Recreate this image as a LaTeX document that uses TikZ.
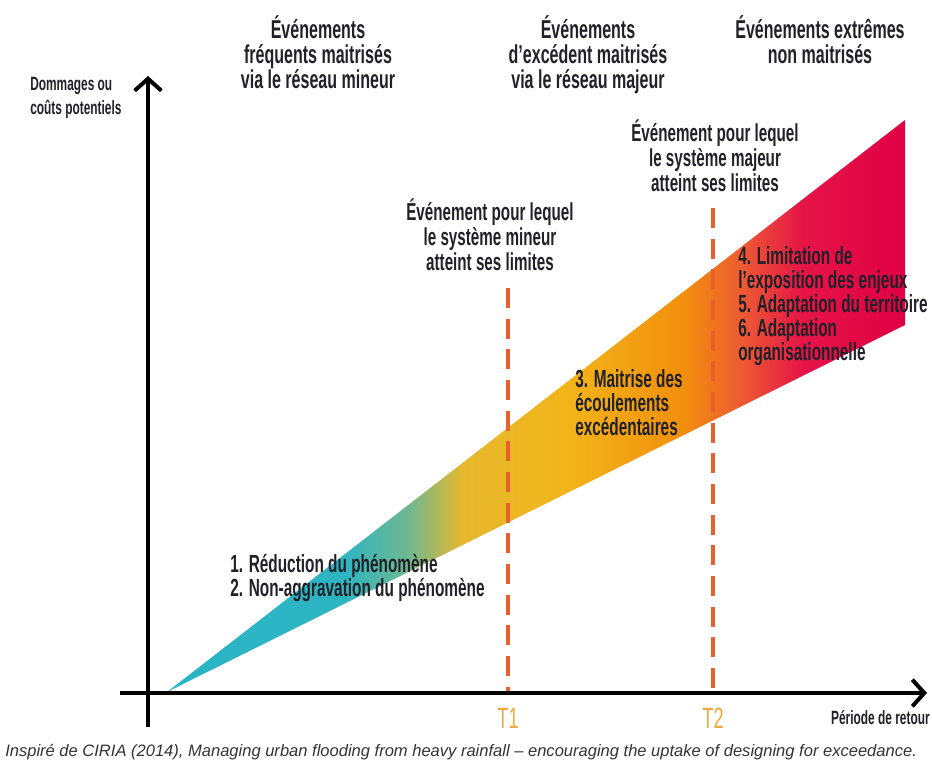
\documentclass[tikz,border=0pt]{standalone}
\usepackage{fontspec}
\setmainfont{Liberation Sans}
\newfontfamily\cond[FakeStretch=0.62]{Liberation Sans}
\usetikzlibrary{arrows.meta}
\definecolor{txt}{HTML}{222128}
\definecolor{dashc}{HTML}{E8602C}
\definecolor{tcol}{HTML}{F2AA3E}
\definecolor{capc}{HTML}{333333}
\pgfdeclarehorizontalshading{wedgeshade}{100bp}{
rgb(0bp)=(0.16,0.71,0.78);
rgb(25bp)=(0.16,0.71,0.78);
rgb(37bp)=(0.18,0.71,0.76);
rgb(41.5bp)=(0.45,0.72,0.55);
rgb(45bp)=(0.90,0.72,0.18);
rgb(52bp)=(0.95,0.71,0.10);
rgb(60bp)=(0.95,0.56,0.05);
rgb(64bp)=(0.93,0.35,0.20);
rgb(68bp)=(0.90,0.08,0.28);
rgb(75bp)=(0.88,0.00,0.27);
rgb(100bp)=(0.88,0.00,0.27)}
\tikzset{
  axisline/.style={line width=3.6pt,-{Straight Barb[length=9pt,width=20pt,line width=3pt]}},
  limline/.style={line width=3pt,dashc,dash pattern=on 15pt off 8pt},
  header/.style={inner sep=0pt,align=center,text=txt,font=\cond\bfseries\fontsize{19.4}{19}\selectfont},
  midtxt/.style={inner sep=0pt,align=center,text=txt,font=\cond\bfseries\fontsize{18.4}{19}\selectfont},
  itemtxt/.style={inner sep=0pt,align=left,text=txt,font=\cond\bfseries\fontsize{18.6}{18}\selectfont},
  smalltxt/.style={inner sep=0pt,align=left,text=txt,font=\cond\bfseries\fontsize{14.4}{18}\selectfont},
  tlabel/.style={inner sep=0pt,text=tcol,font=\cond\fontsize{22}{22}\selectfont},
}
\begin{document}
\begin{tikzpicture}[x=0.75pt,y=-0.75pt]
\useasboundingbox (0,0) rectangle (932,767);
% wedge
\coordinate (apex) at (167,692);
\coordinate (wtop) at (905,120);
\coordinate (wbot) at (905,325);
\shade[shading=wedgeshade] (apex) -- (wtop) -- (wbot) -- cycle;
% dashed limits
\coordinate (t1top) at (508,288);
\coordinate (t1bot) at (508,693);
\coordinate (t2top) at (713,208);
\coordinate (t2bot) at (713,693);
\draw[limline] (t1top) -- (t1bot);
\draw[limline] (t2top) -- (t2bot);
% axes
\coordinate (ybot) at (148,727);
\coordinate (ytop) at (148,76);
\coordinate (xleft) at (120,693);
\coordinate (xright) at (927,693);
\draw[axisline] (ybot) -- (ytop);
\draw[axisline] (xleft) -- (xright);
% axis labels
\node[smalltxt,anchor=north west] (ylab) at (30,77) {Dommages ou\\coûts potentiels};
\node[smalltxt,anchor=east] (xlab) at (930,718) {Période de retour};
\node[tlabel] (T1) at (508,718) {T1};
\node[tlabel] (T2) at (713,718) {T2};
% headers
\node[header,anchor=north] (h1) at (318,15) {Événements\\fréquents maitrisés\\via le réseau mineur};
\node[header,anchor=north] (h2) at (588,15) {Événements\\d’excédent maitrisés\\via le réseau majeur};
\node[header,anchor=north] (h3) at (820,15) {Événements extrêmes\\non maitrisés};
% limit texts
\node[midtxt,anchor=north] (m1) at (490,198) {Événement pour lequel\\le système mineur\\atteint ses limites};
\node[midtxt,anchor=north] (m2) at (715,119) {Événement pour lequel\\le système majeur\\atteint ses limites};
% item texts
\node[itemtxt,anchor=north west] (i46) at (738,246) {4. Limitation de\\l’exposition des enjeux\\5. Adaptation du territoire\\6. Adaptation\\organisationnelle};
\node[itemtxt,anchor=north west] (i3) at (575,369) {3. Maitrise des\\écoulements\\excédentaires};
\node[itemtxt,anchor=north west] (i12) at (230,554) {1. Réduction du phénomène\\2. Non-aggravation du phénomène};
% caption
\node[inner sep=0pt,anchor=west,text=capc,font=\itshape\fontsize{12.4}{14}\selectfont] (cap) at (5,752) {Inspiré de CIRIA (2014), Managing urban flooding from heavy rainfall – encouraging the uptake of designing for exceedance.};
\end{tikzpicture}
\end{document}
